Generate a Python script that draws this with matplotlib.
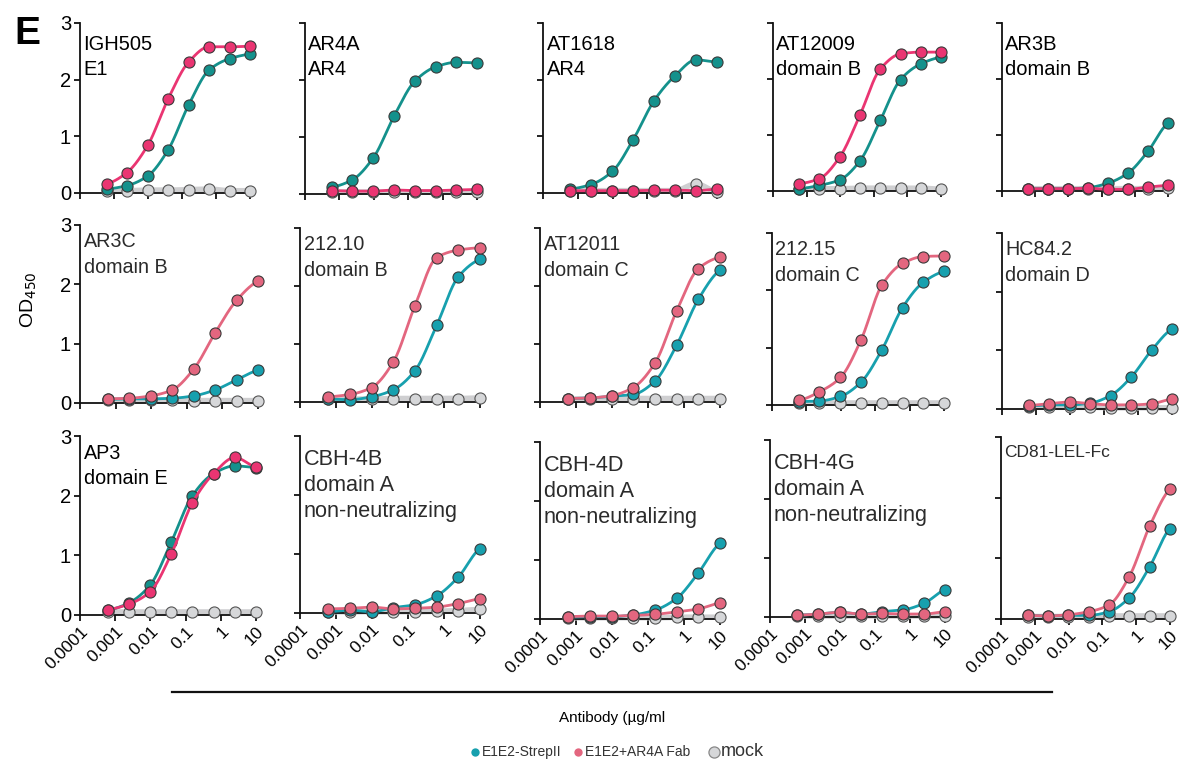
import numpy as np
import matplotlib
matplotlib.use("Agg")
import matplotlib.pyplot as plt

plt.rcParams['font.family'] = ['Liberation Sans', 'DejaVu Sans']

W, H = 1186, 763

# ---------------- data ----------------
conc = [0.00061, 0.0024, 0.0098, 0.039, 0.156, 0.625, 2.5, 10]
xtick_vals = [0.0001, 0.001, 0.01, 0.1, 1, 10]
xtick_labels = ["0.0001", "0.001", "0.01", "0.1", "1", "10"]
ytick_vals = [0, 1, 2, 3]

labels = [
    "IGH505\nE1", "AR4A\nAR4", "AT1618\nAR4", "AT12009\ndomain B", "AR3B\ndomain B",
    "AR3C\ndomain B", "212.10\ndomain B", "AT12011\ndomain C", "212.15\ndomain C", "HC84.2\ndomain D",
    "AP3\ndomain E", "CBH-4B\ndomain A\nnon-neutralizing", "CBH-4D\ndomain A\nnon-neutralizing",
    "CBH-4G\ndomain A\nnon-neutralizing", "CD81-LEL-Fc",
]

strep = [
    [0.07, 0.13, 0.30, 0.76, 1.55, 2.17, 2.37, 2.45],
    [0.12, 0.25, 0.64, 1.37, 1.98, 2.23, 2.31, 2.30],
    [0.07, 0.15, 0.38, 0.94, 1.63, 2.07, 2.35, 2.31],
    [0.04, 0.10, 0.20, 0.54, 1.26, 1.99, 2.27, 2.39],
    [0.04, 0.04, 0.04, 0.06, 0.14, 0.32, 0.71, 1.21],
    [0.06, 0.07, 0.07, 0.08, 0.12, 0.22, 0.39, 0.55],
    [0.05, 0.04, 0.09, 0.21, 0.54, 1.32, 2.16, 2.46],
    [0.06, 0.07, 0.10, 0.13, 0.36, 0.98, 1.77, 2.27],
    [0.06, 0.07, 0.15, 0.40, 0.96, 1.70, 2.14, 2.33],
    [0.05, 0.07, 0.07, 0.10, 0.23, 0.54, 1.00, 1.36],
    [0.08, 0.20, 0.50, 1.22, 2.00, 2.37, 2.50, 2.47],
    [0.02, 0.05, 0.02, 0.09, 0.14, 0.29, 0.61, 1.09],
    [0.03, 0.04, 0.04, 0.07, 0.15, 0.35, 0.78, 1.28],
    [0.03, 0.05, 0.08, 0.05, 0.09, 0.12, 0.23, 0.46],
    [0.06, 0.05, 0.06, 0.06, 0.12, 0.35, 0.86, 1.49],
]

fab = [
    [0.16, 0.36, 0.84, 1.66, 2.31, 2.58, 2.58, 2.59],
    [0.06, 0.05, 0.05, 0.07, 0.06, 0.06, 0.07, 0.08],
    [0.04, 0.04, 0.04, 0.04, 0.05, 0.05, 0.04, 0.07],
    [0.13, 0.22, 0.61, 1.36, 2.18, 2.45, 2.48, 2.48],
    [0.04, 0.04, 0.04, 0.05, 0.03, 0.03, 0.07, 0.10],
    [0.07, 0.08, 0.12, 0.22, 0.57, 1.18, 1.73, 2.05],
    [0.09, 0.13, 0.25, 0.69, 1.66, 2.49, 2.62, 2.66],
    [0.06, 0.07, 0.11, 0.25, 0.67, 1.57, 2.30, 2.50],
    [0.08, 0.23, 0.48, 1.14, 2.09, 2.47, 2.59, 2.60],
    [0.06, 0.09, 0.12, 0.09, 0.07, 0.07, 0.09, 0.17],
    [0.09, 0.18, 0.39, 1.02, 1.88, 2.37, 2.64, 2.48],
    [0.07, 0.08, 0.10, 0.07, 0.08, 0.10, 0.16, 0.24],
    [0.04, 0.05, 0.05, 0.06, 0.08, 0.12, 0.17, 0.27],
    [0.03, 0.05, 0.08, 0.05, 0.06, 0.05, 0.05, 0.09],
    [0.06, 0.05, 0.07, 0.12, 0.23, 0.70, 1.53, 2.14],
]

mock = [
    [0.03, 0.04, 0.05, 0.05, 0.06, 0.07, 0.04, 0.04],
    [0.03, 0.03, 0.03, 0.03, 0.03, 0.03, 0.03, 0.03],
    [0.04, 0.04, 0.04, 0.04, 0.04, 0.04, 0.16, 0.01],
    [0.03, 0.04, 0.04, 0.05, 0.05, 0.05, 0.05, 0.03],
    [0.04, 0.04, 0.04, 0.04, 0.04, 0.04, 0.04, 0.06],
    [0.05, 0.05, 0.05, 0.05, 0.04, 0.04, 0.04, 0.04],
    [0.05, 0.05, 0.05, 0.06, 0.06, 0.06, 0.06, 0.07],
    [0.05, 0.05, 0.05, 0.06, 0.06, 0.06, 0.06, 0.06],
    [0.04, 0.04, 0.04, 0.04, 0.04, 0.04, 0.04, 0.04],
    [0.03, 0.03, 0.03, 0.03, 0.02, 0.02, 0.02, 0.02],
    [0.05, 0.05, 0.05, 0.05, 0.05, 0.05, 0.05, 0.05],
    [0.02, 0.02, 0.02, 0.02, 0.02, 0.03, 0.04, 0.06],
    [0.02, 0.02, 0.02, 0.02, 0.02, 0.03, 0.03, 0.03],
    [0.02, 0.02, 0.02, 0.02, 0.02, 0.02, 0.02, 0.02],
    [0.04, 0.04, 0.04, 0.04, 0.05, 0.05, 0.05, 0.05],
]

strong_colors = [True, True, True, True, True,
                 False, False, False, False, False,
                 True, False, False, False, False]

# label font sizes per panel (pt)
label_sizes = [14.5, 14.5, 14.5, 14.5, 14.5,
               14.2, 14.2, 14.2, 14.2, 14.2,
               14.2, 15.6, 15.6, 15.6, 12.5]

# ---------------- layout (pixel boxes: x at 1e-4, x at 10, y at 3, y at 0) ----------------
boxes = [
    (80, 250, 23, 193), (305, 477, 23, 194), (543, 717, 23, 193), (773, 941, 23, 191), (1002, 1168, 23, 191),
    (80, 258, 225, 403), (300, 480, 228, 402), (540, 720, 228, 402), (772, 944, 233, 405), (1002, 1172, 233, 409),
    (80, 256, 436, 615), (300, 480, 436, 613), (540, 720, 442, 619), (770, 945, 440, 617), (1001, 1170, 437, 619),
]

TEAL_S, PINK_S = '#14918c', '#ea3572'
TEAL_W, PINK_W = '#17a0ae', '#e3667f'
MOCK = '#d6d7d9'
EDGE = '#3a3a3a'


def pchip(x, y, xs):
    x = np.asarray(x, float); y = np.asarray(y, float)
    h = np.diff(x); delta = np.diff(y) / h
    n = len(x); d = np.zeros(n)
    for k in range(1, n - 1):
        if delta[k - 1] * delta[k] > 0:
            w1 = 2 * h[k] + h[k - 1]; w2 = h[k] + 2 * h[k - 1]
            d[k] = (w1 + w2) / (w1 / delta[k - 1] + w2 / delta[k])
    d[0] = delta[0] * 0.5; d[-1] = delta[-1] * 0.5
    idx = np.clip(np.searchsorted(x, xs) - 1, 0, n - 2)
    t = (xs - x[idx]) / h[idx]
    h00 = 2 * t**3 - 3 * t**2 + 1; h10 = t**3 - 2 * t**2 + t
    h01 = -2 * t**3 + 3 * t**2; h11 = t**3 - t**2
    return h00 * y[idx] + h10 * h[idx] * d[idx] + h01 * y[idx + 1] + h11 * h[idx] * d[idx + 1]


fig = plt.figure(figsize=(W / 100, H / 100), dpi=100)
lx = np.log10(conc)
xs = np.linspace(lx[0], lx[-1], 200)

for i in range(15):
    x0, x1, y3, y0 = boxes[i]
    ax = fig.add_axes([x0 / W, 1 - y0 / H, (x1 - x0) / W, (y0 - y3) / H])
    ax.set_xscale('log')
    ax.set_xlim(1e-4, 10)
    ax.set_ylim(0, 3)
    row, col = divmod(i, 5)
    tc, pc = (TEAL_S, PINK_S) if strong_colors[i] else (TEAL_W, PINK_W)

    # mock band + line
    ax.plot(10**xs, pchip(lx, mock[i], xs), color='#cfcfd1', lw=4, zorder=2, clip_on=False,
            solid_capstyle='butt')
    ax.plot(conc, mock[i], 'o', ms=8, mfc=MOCK, mec='#555555', mew=0.8, zorder=3, clip_on=False)
    # strep
    ax.plot(10**xs, pchip(lx, strep[i], xs), color=tc, lw=2, zorder=4, clip_on=False)
    ax.plot(conc, strep[i], 'o', ms=8, mfc=tc, mec=EDGE, mew=0.8, zorder=5, clip_on=False)
    # fab
    ax.plot(10**xs, pchip(lx, fab[i], xs), color=pc, lw=2, zorder=6, clip_on=False)
    ax.plot(conc, fab[i], 'o', ms=8, mfc=pc, mec=EDGE, mew=0.8, zorder=7, clip_on=False)

    for s in ['top', 'right']:
        ax.spines[s].set_visible(False)
    for s in ['left', 'bottom']:
        ax.spines[s].set_linewidth(1.3)
        ax.spines[s].set_color('#111111')
    ax.set_xticks(xtick_vals)
    ax.xaxis.set_minor_locator(matplotlib.ticker.NullLocator())
    ax.set_yticks(ytick_vals)
    ax.tick_params(direction='out', length=4.5, width=1.3, color='#111111', pad=2)
    if col == 0:
        ax.set_yticklabels([str(v) for v in ytick_vals], fontsize=14.5)
    else:
        ax.set_yticklabels([])
    if row == 2:
        ax.set_xticklabels(xtick_labels, fontsize=12.5, rotation=45, ha='right',
                           rotation_mode='anchor')
    else:
        ax.set_xticklabels([])

    txtcol = 'black' if strong_colors[i] else '#2b2b2b'
    nlines = labels[i].count('\n') + 1
    if nlines == 3:
        ytop, lsp = 0.925, 1.3
    elif row == 0:
        ytop, lsp = 0.93, 1.4
    else:
        ytop, lsp = 0.958, 1.45
    ax.text(0.02, ytop, labels[i], transform=ax.transAxes, ha='left', va='top',
            fontsize=label_sizes[i], color=txtcol, linespacing=lsp, zorder=10)

# panel letter
fig.text(14 / W, 1 - 16 / H, 'E', fontsize=28, fontweight='bold', ha='left', va='top')
# y label
fig.text(29 / W, 1 - 300 / H, r'OD$_{450}$', fontsize=14, rotation=90, ha='center', va='center')

# horizontal bar
fig.add_artist(matplotlib.lines.Line2D([172 / W, 1052 / W], [1 - 692 / H, 1 - 692 / H],
                                       color='#111111', lw=1.6))
fig.text(612 / W, 1 - 718 / H, 'Antibody (µg/ml', fontsize=11, ha='center', va='center')

# legend
leg_y = 1 - 752 / H
leg_items = [
    (475, TEAL_W, 'none', 6, 'E1E2-StrepII', 10),
    (578, PINK_W, 'none', 6, 'E1E2+AR4A Fab', 10),
    (714, MOCK, '#888888', 8, 'mock', 13),
]
for px, fc, ec, ms, lab, fs in leg_items:
    fig.add_artist(matplotlib.lines.Line2D([px / W], [leg_y], marker='o', ms=ms, mfc=fc,
                                           mec=ec, mew=0.9, ls='none'))
    fig.text((px + 7) / W, leg_y, lab, fontsize=fs, ha='left', va='center', color='#333333')

fig.savefig('out.png', dpi=100)
